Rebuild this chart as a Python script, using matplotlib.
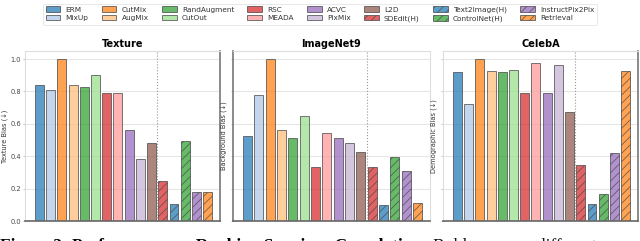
import matplotlib
matplotlib.use("Agg")
import matplotlib.pyplot as plt
import numpy as np

methods = ["ERM", "MixUp", "CutMix", "AugMix", "RandAugment", "CutOut", "RSC", "MEADA",
           "ACVC", "PixMix", "L2D", "SDEdit(H)", "Text2Image(H)", "ControlNet(H)",
           "InstructPix2Pix", "Retrieval"]
colors = ["#1f77b4", "#aec7e8", "#ff7f0e", "#ffbb78", "#2ca02c", "#98df8a", "#d62728", "#ff9896",
          "#9467bd", "#c5b0d5", "#8c564b", "#d62728", "#1f77b4", "#2ca02c", "#9467bd", "#ff7f0e"]
hatched = [False] * 11 + [True] * 5

texture = [0.839, 0.812, 1.0, 0.837, 0.828, 0.900, 0.793, 0.793, 0.565, 0.380, 0.479,
           0.249, 0.103, 0.493, 0.181, 0.181]
imagenet9 = [0.524, 0.781, 1.0, 0.559, 0.510, 0.647, 0.335, 0.541, 0.510, 0.479, 0.428,
             0.331, 0.101, 0.393, 0.308, 0.109]
celeba = [0.919, 0.724, 1.0, 0.929, 0.921, 0.935, 0.789, 0.976, 0.789, 0.962, 0.674,
          0.345, 0.103, 0.164, 0.417, 0.929]

panels = [("Texture", "Texture Bias (↓)", texture),
          ("ImageNet9", "Background Bias (↓)", imagenet9),
          ("CelebA", "Demographic Bias (↓)", celeba)]

plt.rcParams['hatch.linewidth'] = 0.6
plt.rcParams['hatch.color'] = '#333333'

fig = plt.figure(figsize=(6.4, 2.41), dpi=100)
lefts = [25 / 640, 233 / 640, 443 / 640]
widths = [195 / 640, 197 / 640, 195 / 640]
bottom = 20 / 241
height = 170 / 241

x = np.arange(len(methods))
handles = []
for i, (title, ylabel, vals) in enumerate(panels):
    ax = fig.add_axes([lefts[i], bottom, widths[i], height])
    ax.set_axisbelow(True)
    ax.yaxis.grid(True, color="#e6e6e6", lw=0.8)
    bars = []
    for j in range(len(methods)):
        b = ax.bar(x[j], vals[j], width=0.8, color=colors[j], alpha=0.72,
                   edgecolor="#444444", linewidth=0.7,
                   hatch="////" if hatched[j] else None, label=methods[j])
        bars.append(b)
    if i == 0:
        handles = bars
    ax.axvline(10.5, color="#999999", ls=":", lw=0.8)
    ax.set_xlim(-1.28, 16.1)
    ax.set_ylim(0, 1.05)
    ax.set_xticks([])
    ax.set_yticks([0, 0.2, 0.4, 0.6, 0.8, 1.0])
    if i == 0:
        ax.set_yticklabels(["0.0", "0.2", "0.4", "0.6", "0.8", "1.0"], fontsize=4.8, color="#444444")
    else:
        ax.set_yticklabels([])
    ax.tick_params(axis='y', length=1.5, width=0.5, color="#aaaaaa", pad=1.5)
    ax.set_ylabel(ylabel, fontsize=4.8, color="#333333", labelpad=1.5)
    ax.set_title(title, fontsize=7, fontweight="bold", pad=3)
    for s in ["top", "left", "right"]:
        ax.spines[s].set_color("#dddddd")
        ax.spines[s].set_linewidth(0.8)
    ax.spines["bottom"].set_color("#666666")
    ax.spines["bottom"].set_linewidth(1.2)
    if i == 0 or i == 2:
        ax.spines["right"].set_color("#777777")
        ax.spines["right"].set_linewidth(1.2)
    if i == 1:
        ax.spines["left"].set_color("#777777")
        ax.spines["left"].set_linewidth(1.2)

leg = fig.legend([h[0] for h in handles], methods, loc="upper center",
                 bbox_to_anchor=(0.5, 1.0), ncol=8, fontsize=5.3, frameon=True,
                 handlelength=2.0, handleheight=0.8, columnspacing=1.8, handletextpad=0.7,
                 borderpad=0.35, labelspacing=0.3)
leg.get_frame().set_edgecolor("#dddddd")
leg.get_frame().set_linewidth(0.6)
for t in leg.get_texts():
    t.set_color("#333333")

fig.text(0.0, -0.037, "Figure 3: Performance on Ranking Spurious Correlations.",
         fontsize=12.5, fontweight="bold", va="baseline", ha="left", family="Liberation Serif")
fig.text(433 / 640, -0.037, "Bold are more different across",
         fontsize=12.5, va="baseline", ha="left", family="Liberation Serif", color="#111111")

fig.savefig("out.png", dpi=100)
